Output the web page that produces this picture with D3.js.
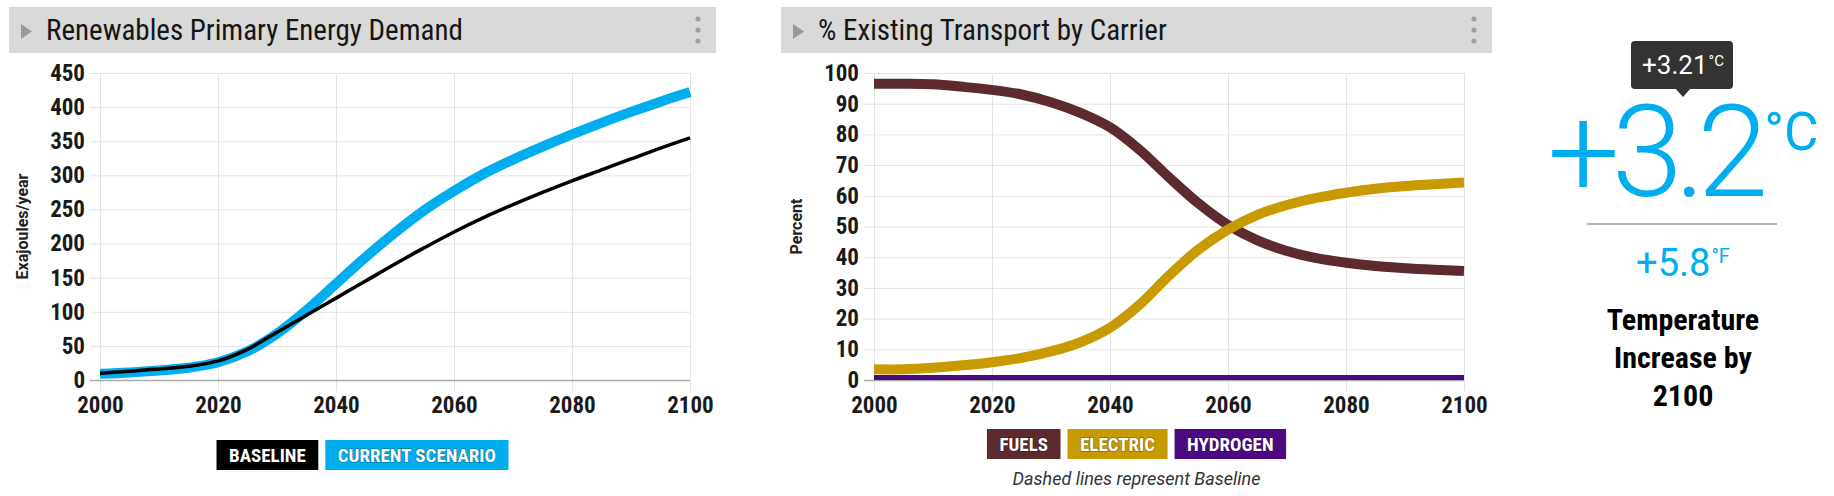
<!DOCTYPE html>
<html>
<head>
<meta charset="utf-8">
<script src="https://cdn.jsdelivr.net/npm/d3@7"></script>
<style>
  body { margin: 0; background: #fff; }
  svg { display: block; }
</style>
</head>
<body>
<div id="viz"></div>
<script>
// ---- data ----
const years = [2000, 2005, 2010, 2015, 2020, 2025, 2030, 2035, 2040, 2045, 2050,
  2055, 2060, 2065, 2070, 2075, 2080, 2085, 2090, 2095, 2100];

const baselineRenewables = [10, 13, 16, 20, 28, 45, 70, 95, 120, 145, 170,
  194, 217, 238, 257, 275, 292, 308, 324, 340, 355];
const currentRenewables = [9, 11, 14, 18, 26, 42, 68, 102, 141, 180, 216,
  249, 277, 302, 323, 342, 360, 377, 393, 408, 422];

const fuelsShare = [96.5, 96.5, 96.3, 95.5, 94.5, 93, 90.5, 87, 82.3, 75, 66,
  57.5, 50.5, 45.5, 42, 39.7, 38.2, 37.1, 36.4, 35.9, 35.5];
const electricShare = [3.5, 3.5, 4, 4.8, 5.8, 7.2, 9.3, 12.3, 17, 24.5, 34,
  42.5, 49, 53.8, 57, 59.3, 61, 62.3, 63.2, 63.8, 64.3];
const hydrogenShare = [0.8, 0.8, 0.8, 0.8, 0.8, 0.8, 0.8, 0.8, 0.8, 0.8, 0.8,
  0.8, 0.8, 0.8, 0.8, 0.8, 0.8, 0.8, 0.8, 0.8, 0.8];

const yearTicks = [2000, 2020, 2040, 2060, 2080, 2100];
const renewTicks = [0, 50, 100, 150, 200, 250, 300, 350, 400, 450];
const percentTicks = [0, 10, 20, 30, 40, 50, 60, 70, 80, 90, 100];

const renewSeries = [
  { name: "BASELINE", values: baselineRenewables, color: "#000", width: 3.5 },
  { name: "CURRENT SCENARIO", values: currentRenewables, color: "#00aeef", width: 10 },
];
const transportSeries = [
  { name: "FUELS", values: fuelsShare, color: "#5c2a2f", width: 10 },
  { name: "ELECTRIC", values: electricShare, color: "#c99a00", width: 10 },
  { name: "HYDROGEN", values: hydrogenShare, color: "#4b0a82", width: 5 },
];

const tempC = 3.21;
const tempF = 5.8;
const tempCaption = ["Temperature", "Increase by", "2100"];

// ---- layout ----
const config = {
  svgWidth: 1834,
  svgHeight: 496,
  headerTop: 7,
  headerHeight: 46,
  plotTop: 73,
  plotBottom: 380,
  condensed: "'Roboto Condensed', 'Liberation Sans Narrow', 'DejaVu Sans Condensed', sans-serif",
  gridColor: "#e3e3e3",
  tempBlue: "#00aeef",
};

const panels = [
  {
    title: "Renewables Primary Energy Demand",
    left: 9, right: 716, plotLeft: 100, plotRight: 690,
    yMax: 450, yTicks: renewTicks, yTitle: "Exajoules/year", yTitleX: 22,
    series: renewSeries, legendY: 440,
  },
  {
    title: "% Existing Transport by Carrier",
    left: 781, right: 1492, plotLeft: 874, plotRight: 1464,
    yMax: 100, yTicks: percentTicks, yTitle: "Percent", yTitleX: 796,
    series: transportSeries, legendY: 429,
    note: "Dashed lines represent Baseline",
  },
];

const svg = d3.select("#viz").append("svg")
  .attr("width", config.svgWidth)
  .attr("height", config.svgHeight);

const drawHeader = (p) => {
  const g = svg.append("g").attr("transform", `translate(${p.left},${config.headerTop})`);
  const w = p.right - p.left;
  g.append("rect").attr("width", w).attr("height", config.headerHeight).attr("fill", "#d9d9d9");
  g.append("path").attr("d", "M12,17 L23,24.5 L12,32 Z").attr("fill", "#9a9a9a");
  g.append("text")
    .attr("x", 37).attr("y", 33)
    .attr("font-family", config.condensed)
    .attr("font-size", 29)
    .attr("fill", "#151515")
    .text(p.title);
  [12, 23, 34].forEach((cy) => {
    g.append("circle").attr("cx", w - 18).attr("cy", cy).attr("r", 2.6).attr("fill", "#a0a0a0");
  });
};

const styleTickText = (sel) => {
  sel.selectAll(".tick text")
    .attr("font-family", config.condensed)
    .attr("font-weight", "bold")
    .attr("font-size", 23)
    .attr("fill", "#1a1a1a");
};

const drawChart = (p) => {
  const x = d3.scaleLinear().domain([2000, 2100]).range([p.plotLeft, p.plotRight]);
  const y = d3.scaleLinear().domain([0, p.yMax]).range([config.plotBottom, config.plotTop]);
  const plotW = p.plotRight - p.plotLeft;
  const plotH = config.plotBottom - config.plotTop;

  // vertical grid + year labels
  const xAxis = svg.append("g")
    .attr("transform", `translate(0,${config.plotBottom})`)
    .call(d3.axisBottom(x).tickValues(yearTicks).tickFormat(d3.format("d"))
      .tickSize(-plotH).tickPadding(17));
  xAxis.select(".domain").remove();
  xAxis.selectAll(".tick line").attr("y1", 11).attr("stroke", config.gridColor);
  styleTickText(xAxis);

  // horizontal grid + value labels
  const yAxis = svg.append("g")
    .attr("transform", `translate(${p.plotLeft},0)`)
    .call(d3.axisLeft(y).tickValues(p.yTicks).tickSize(-plotW).tickPadding(15));
  yAxis.select(".domain").remove();
  yAxis.selectAll(".tick line")
    .attr("x1", -10)
    .attr("stroke", (d) => (d === 0 ? "#aaa" : config.gridColor))
    .attr("stroke-width", (d) => (d === 0 ? 1.5 : 1));
  styleTickText(yAxis);

  svg.append("text")
    .attr("transform", `translate(${p.yTitleX},${(config.plotTop + config.plotBottom) / 2}) rotate(-90)`)
    .attr("text-anchor", "middle")
    .attr("dy", "0.35em")
    .attr("font-family", "Roboto, sans-serif")
    .attr("font-weight", "bold")
    .attr("font-size", 16)
    .attr("fill", "#222")
    .text(p.yTitle);

  const line = d3.line()
    .x((d, i) => x(years[i]))
    .y((d) => y(d))
    .curve(d3.curveCatmullRom.alpha(0.5));

  // thick series first so the thin baseline stays on top
  const order = p.series.slice().sort((a, b) => b.width - a.width);
  order.forEach((s) => {
    svg.append("path")
      .datum(s.values)
      .attr("d", line)
      .attr("fill", "none")
      .attr("stroke", s.color)
      .attr("stroke-width", s.width);
  });

  drawLegend(p);
};

const drawLegend = (p) => {
  const pad = 12.5, gap = 7, h = 30, fs = 19;
  const g = svg.append("g");
  const widths = p.series.map((s) => {
    const t = g.append("text")
      .attr("font-family", config.condensed)
      .attr("font-weight", "bold")
      .attr("font-size", fs)
      .text(s.name);
    const w = t.node().getComputedTextLength() + pad * 2;
    t.remove();
    return w;
  });
  const total = d3.sum(widths) + gap * (p.series.length - 1);
  let cx = (p.left + p.right) / 2 - total / 2;
  p.series.forEach((s, i) => {
    g.append("rect")
      .attr("x", cx).attr("y", p.legendY)
      .attr("width", widths[i]).attr("height", h)
      .attr("fill", s.color);
    g.append("text")
      .attr("x", cx + widths[i] / 2).attr("y", p.legendY + h / 2)
      .attr("dy", "0.36em")
      .attr("text-anchor", "middle")
      .attr("font-family", config.condensed)
      .attr("font-weight", "bold")
      .attr("font-size", fs)
      .attr("fill", "#fff")
      .attr("style", "paint-order: stroke; stroke: rgba(0,0,0,0.3); stroke-width: 1.5px")
      .text(s.name);
    cx += widths[i] + gap;
  });
  if (p.note) {
    g.append("text")
      .attr("x", (p.left + p.right) / 2).attr("y", 485)
      .attr("text-anchor", "middle")
      .attr("font-family", "Roboto, sans-serif")
      .attr("font-style", "italic")
      .attr("font-size", 18)
      .attr("fill", "#333")
      .text(p.note);
  }
};

// number + superscript unit, centred together on cx
const drawValueWithUnit = (g, cx, baseline, value, unit, opts) => {
  const num = g.append("text")
    .attr("y", baseline)
    .attr("font-family", "Roboto, sans-serif")
    .attr("font-weight", opts.weight || 400)
    .attr("font-size", opts.size)
    .attr("letter-spacing", opts.spacing || 0)
    .attr("fill", opts.color)
    .text(value);
  const sup = g.append("text")
    .attr("y", baseline - opts.rise)
    .attr("font-family", "Roboto, sans-serif")
    .attr("font-size", opts.unitSize)
    .attr("fill", opts.color)
    .text(unit);
  const numW = num.node().getComputedTextLength();
  const supW = sup.node().getComputedTextLength();
  const x0 = cx - (numW + opts.gap + supW) / 2;
  num.attr("x", x0);
  sup.attr("x", x0 + numW + opts.gap);
};

const drawTemperature = () => {
  const cx = 1683;
  const g = svg.append("g");

  g.append("rect").attr("x", 1631).attr("y", 41).attr("width", 102).attr("height", 48)
    .attr("rx", 4).attr("fill", "#333");
  g.append("path").attr("d", `M${cx - 8},88 L${cx},97 L${cx + 8},88 Z`).attr("fill", "#333");
  drawValueWithUnit(g, cx, 74, "+" + d3.format(".2f")(tempC), "°C",
    { size: 26, unitSize: 15, rise: 8, gap: 1, color: "#fff" });

  drawValueWithUnit(g, cx, 196, "+" + d3.format(".1f")(tempC), "°C",
    { size: 128, unitSize: 53, rise: 46, gap: 4, color: config.tempBlue, weight: 300, spacing: -8 });

  g.append("line").attr("x1", 1587).attr("x2", 1777).attr("y1", 224).attr("y2", 224)
    .attr("stroke", "#9a9a9a").attr("stroke-width", 1.5);

  drawValueWithUnit(g, cx, 276, "+" + d3.format(".1f")(tempF), "°F",
    { size: 38, unitSize: 20, rise: 13, gap: 1, color: config.tempBlue });

  tempCaption.forEach((t, i) => {
    g.append("text").attr("x", cx).attr("y", 330 + i * 38).attr("text-anchor", "middle")
      .attr("font-family", config.condensed).attr("font-weight", "bold")
      .attr("font-size", 30).attr("fill", "#000").text(t);
  });
};

panels.forEach((p) => {
  drawHeader(p);
  drawChart(p);
});
drawTemperature();
</script>
</body>
</html>
